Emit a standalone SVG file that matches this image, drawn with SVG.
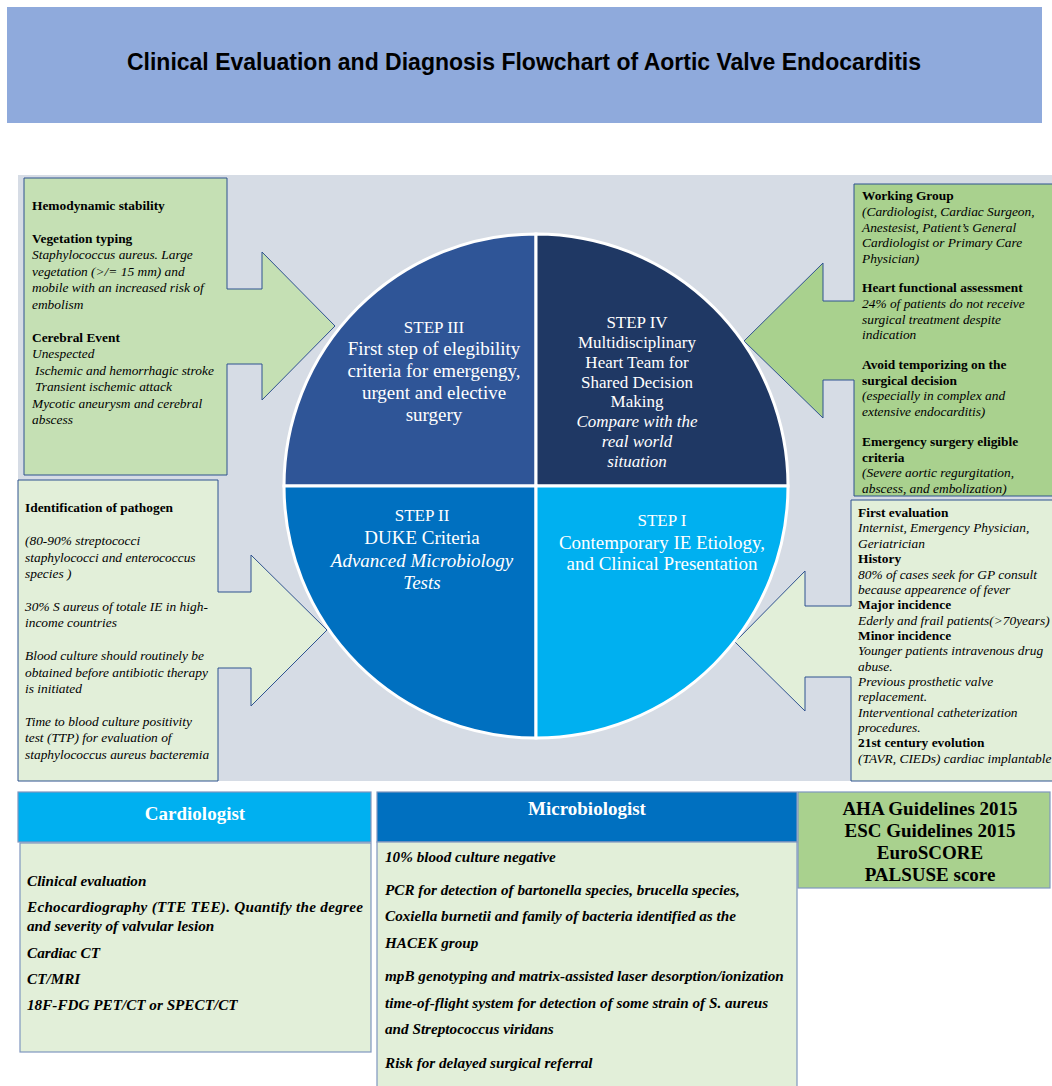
<svg xmlns="http://www.w3.org/2000/svg" width="1052" height="1086" viewBox="0 0 1052 1086">
<defs>
<style>
.t{font-family:"Liberation Serif","Times New Roman",serif;fill:#000;font-size:13.4px}
.b{font-weight:bold}
.i{font-style:italic}
.w{fill:#fff;font-family:"Liberation Serif","Times New Roman",serif;text-anchor:middle}
.co{stroke:#2f528f;stroke-width:1}
.bx{stroke:#7f96bf;stroke-width:1.2}
.bt{font-family:"Liberation Serif","Times New Roman",serif;font-weight:bold;font-style:italic;font-size:15.2px;fill:#000}
</style>
</defs>
<rect width="1052" height="1086" fill="#fff"/>
<g id="title">
<rect x="7" y="7" width="1035" height="116" fill="#8faadc"/>
<text x="524" y="70" text-anchor="middle" font-family="'Liberation Sans',Arial,sans-serif" font-weight="bold" font-size="23">Clinical Evaluation and Diagnosis Flowchart of Aortic Valve Endocarditis</text>
</g>
<rect id="panel" x="18" y="175" width="1034" height="606" fill="#d6dce5"/>

<g id="connectors">
<path class="co" fill="#c5e0b4" d="M24,178 H227 V289 H262 V252 L335,326 L262,400 V364 H227 V475 H24 Z"/>
<path class="co" fill="#a9d18e" d="M854,184 H1060 V496 H854 V380 H823 V418 L744,341 L823,263 V301 H854 Z"/>
<path class="co" fill="#e2efd9" d="M18,480 H218 V592 H251 V555 L327,630 L251,706 V668 H218 V781 H18 Z"/>
<path class="co" fill="#e2efd9" d="M851,500 H1060 V781 H851 V677 H805 V711 L735,642 L805,571 V606 H851 Z"/>
</g>

<g id="step3">
<path d="M536,486 H284 A252,252 0 0 1 536,234 Z" fill="#2f5597" stroke="#fff" stroke-width="3"/>
<text class="w" font-size="19"><tspan x="434" y="333" font-size="17">STEP III</tspan><tspan x="434" y="355">First step of elegibility</tspan><tspan x="434" y="377">criteria for emergengy,</tspan><tspan x="434" y="399">urgent and elective</tspan><tspan x="434" y="421">surgery</tspan></text>
</g>
<g id="step4">
<path d="M536,486 V234 A252,252 0 0 1 788,486 Z" fill="#1f3864" stroke="#fff" stroke-width="3"/>
<text class="w" font-size="17"><tspan x="637" y="328">STEP IV</tspan><tspan x="637" y="348">Multidisciplinary</tspan><tspan x="637" y="368">Heart Team for</tspan><tspan x="637" y="388">Shared Decision</tspan><tspan x="637" y="407">Making</tspan><tspan x="637" y="427" font-style="italic">Compare with the</tspan><tspan x="637" y="447" font-style="italic">real world</tspan><tspan x="637" y="467" font-style="italic">situation</tspan></text>
</g>
<g id="step2">
<path d="M536,486 V738 A252,252 0 0 1 284,486 Z" fill="#0070c0" stroke="#fff" stroke-width="3"/>
<text class="w" font-size="19"><tspan x="422" y="521" font-size="17">STEP II</tspan><tspan x="422" y="544">DUKE Criteria</tspan><tspan x="422" y="567" font-style="italic">Advanced Microbiology</tspan><tspan x="422" y="589" font-style="italic">Tests</tspan></text>
</g>
<g id="step1">
<path d="M536,486 H788 A252,252 0 0 1 536,738 Z" fill="#00b0f0" stroke="#fff" stroke-width="3"/>
<text class="w" font-size="19"><tspan x="662" y="526" font-size="17">STEP I</tspan><tspan x="662" y="549">Contemporary IE Etiology,</tspan><tspan x="662" y="570">and Clinical Presentation</tspan></text>
</g>

<g id="callout-step3">
<text class="t"><tspan x="32" y="210" class="b">Hemodynamic stability</tspan>
<tspan x="32" y="243" class="b">Vegetation typing</tspan>
<tspan x="32" y="259" class="i">Staphylococcus aureus. Large</tspan>
<tspan x="32" y="276" class="i">vegetation (&gt;/= 15 mm) and</tspan>
<tspan x="32" y="292" class="i">mobile with an increased risk of</tspan>
<tspan x="32" y="309" class="i">embolism</tspan>
<tspan x="32" y="342" class="b">Cerebral Event</tspan>
<tspan x="32" y="358" class="i">Unespected</tspan>
<tspan x="35" y="375" class="i">Ischemic and hemorrhagic stroke</tspan>
<tspan x="35" y="391" class="i">Transient ischemic attack</tspan>
<tspan x="32" y="408" class="i">Mycotic aneurysm and cerebral</tspan>
<tspan x="32" y="424" class="i">abscess</tspan></text>
</g>

<g id="callout-step4">
<text class="t"><tspan x="862" y="200" class="b">Working Group</tspan>
<tspan x="862" y="216" class="i">(Cardiologist, Cardiac Surgeon,</tspan>
<tspan x="862" y="232" class="i">Anestesist, Patient’s General</tspan>
<tspan x="862" y="247" class="i">Cardiologist or Primary Care</tspan>
<tspan x="862" y="263" class="i">Physician)</tspan>
<tspan x="862" y="292" class="b">Heart functional assessment</tspan>
<tspan x="862" y="308" class="i">24% of patients do not receive</tspan>
<tspan x="862" y="324" class="i">surgical treatment despite</tspan>
<tspan x="862" y="339" class="i">indication</tspan>
<tspan x="862" y="369" class="b">Avoid temporizing on the</tspan>
<tspan x="862" y="385" class="b">surgical decision</tspan>
<tspan x="862" y="400" class="i">(especially in complex and</tspan>
<tspan x="862" y="416" class="i">extensive endocarditis)</tspan>
<tspan x="862" y="446" class="b">Emergency surgery eligible</tspan>
<tspan x="862" y="462" class="b">criteria</tspan>
<tspan x="862" y="477" class="i">(Severe aortic regurgitation,</tspan>
<tspan x="862" y="493" class="i">abscess, and embolization)</tspan></text>
</g>

<g id="callout-step2">
<text class="t"><tspan x="25" y="512" class="b">Identification of pathogen</tspan>
<tspan x="25" y="545" class="i">(80-90% streptococci</tspan>
<tspan x="25" y="562" class="i">staphylococci and enterococcus</tspan>
<tspan x="25" y="578" class="i">species )</tspan>
<tspan x="25" y="611" class="i">30% S aureus of totale IE in high-</tspan>
<tspan x="25" y="627" class="i">income countries</tspan>
<tspan x="25" y="660" class="i">Blood culture should routinely be</tspan>
<tspan x="25" y="677" class="i">obtained before antibiotic therapy</tspan>
<tspan x="25" y="693" class="i">is initiated</tspan>
<tspan x="25" y="726" class="i">Time to blood culture positivity</tspan>
<tspan x="25" y="742" class="i">test (TTP) for evaluation of</tspan>
<tspan x="25" y="759" class="i">staphylococcus aureus bacteremia</tspan></text>
</g>

<g id="callout-step1">
<text class="t"><tspan x="858" y="517" class="b">First evaluation</tspan>
<tspan x="858" y="532" class="i">Internist, Emergency Physician,</tspan>
<tspan x="858" y="548" class="i">Geriatrician</tspan>
<tspan x="858" y="563" class="b">History</tspan>
<tspan x="858" y="579" class="i">80% of cases seek for GP consult</tspan>
<tspan x="858" y="594" class="i">because appearence of fever</tspan>
<tspan x="858" y="609" class="b">Major incidence</tspan>
<tspan x="858" y="625" class="i">Ederly and frail patients(&gt;70years)</tspan>
<tspan x="858" y="640" class="b">Minor incidence</tspan>
<tspan x="858" y="655" class="i">Younger patients intravenous drug</tspan>
<tspan x="858" y="671" class="i">abuse.</tspan>
<tspan x="858" y="686" class="i">Previous prosthetic valve</tspan>
<tspan x="858" y="701" class="i">replacement.</tspan>
<tspan x="858" y="717" class="i">Interventional catheterization</tspan>
<tspan x="858" y="732" class="i">procedures.</tspan>
<tspan x="858" y="747" class="b">21st century evolution</tspan>
<tspan x="858" y="763" class="i">(TAVR, CIEDs) cardiac implantable</tspan></text>
</g>

<g id="cardiologist">
<rect class="bx" x="18" y="792" width="353" height="50" fill="#00b0f0"/>
<text class="w" x="195" y="820" font-size="19" font-weight="bold">Cardiologist</text>
<rect class="bx" x="20" y="843" width="351" height="209" fill="#e2efd9"/>
<text class="bt"><tspan x="27" y="886">Clinical evaluation</tspan>
<tspan x="27" y="912" textLength="336" lengthAdjust="spacing">Echocardiography (TTE TEE). Quantify the degree</tspan>
<tspan x="27" y="931">and severity of valvular lesion</tspan>
<tspan x="27" y="958">Cardiac CT</tspan>
<tspan x="27" y="984">CT/MRI</tspan>
<tspan x="27" y="1010">18F-FDG PET/CT or SPECT/CT</tspan></text>
</g>

<g id="microbiologist">
<rect class="bx" x="377" y="792" width="420" height="50" fill="#0070c0"/>
<text class="w" x="587" y="815" font-size="19" font-weight="bold">Microbiologist</text>
<rect class="bx" x="377" y="842" width="420" height="250" fill="#e2efd9"/>
<text class="bt"><tspan x="385" y="862">10% blood culture negative</tspan>
<tspan x="385" y="895">PCR for detection of bartonella species, brucella species,</tspan>
<tspan x="385" y="921">Coxiella burnetii and family of bacteria identified as the</tspan>
<tspan x="385" y="948">HACEK group</tspan>
<tspan x="385" y="981">mpB genotyping and matrix-assisted laser desorption/ionization</tspan>
<tspan x="385" y="1008">time-of-flight system for detection of some strain of S. aureus</tspan>
<tspan x="385" y="1034">and Streptococcus viridans</tspan>
<tspan x="385" y="1068">Risk for delayed surgical referral</tspan></text>
</g>

<g id="guidelines">
<rect class="bx" x="798" y="792" width="252" height="96" fill="#a9d18e"/>
<text font-family="'Liberation Serif','Times New Roman',serif" font-weight="bold" font-size="19" text-anchor="middle" fill="#000"><tspan x="930" y="815">AHA Guidelines 2015</tspan><tspan x="930" y="837">ESC Guidelines 2015</tspan><tspan x="930" y="859">EuroSCORE</tspan><tspan x="930" y="881">PALSUSE score</tspan></text>
</g>
</svg>
